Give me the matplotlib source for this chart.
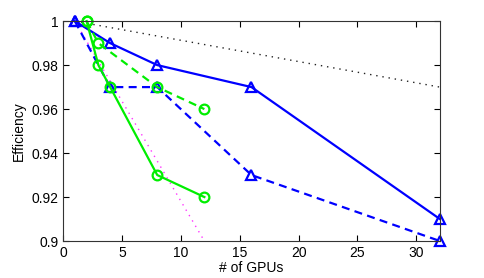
import numpy as np
from matplotlib import pyplot as plt

plt.rcParams['font.family'] = ['Liberation Sans', 'DejaVu Sans']

# measured efficiency
gpus_tri = [1, 4, 8, 16, 32]
eff_blue_solid = [1.0, 0.99, 0.98, 0.97, 0.91]
eff_blue_dash = [1.0, 0.97, 0.97, 0.93, 0.90]

gpus_circ_dash = [2, 3, 8, 12]
eff_green_dash = [1.0, 0.99, 0.97, 0.96]
gpus_circ_solid = [2, 3, 4, 8, 12]
eff_green_solid = [1.0, 0.98, 0.97, 0.93, 0.92]

# reference trend lines
ref_black_x = [1, 32]
ref_black_y = [1.0, 0.97]
ref_mag_x = [1, 12]
ref_mag_y = [1.0, 0.90]

fig = plt.figure(figsize=(4.85, 2.78), dpi=100)
ax = fig.add_axes([0.13, 0.133, 0.777, 0.791])

ax.plot(ref_black_x, ref_black_y, color='#222222', lw=1, dashes=(1, 3.5))
ax.plot(ref_mag_x, ref_mag_y, color='#ff33ff', lw=1, dashes=(1, 3.5))

dash = (3.6, 2.4)
ax.plot(gpus_tri, eff_blue_solid, '-^', color='#0000ff', lw=1.6, ms=7.5,
        mfc='none', mew=1.6, clip_on=False)
ax.plot(gpus_tri, eff_blue_dash, '^', ls='--', dashes=dash, color='#0000ff',
        lw=1.6, ms=7.5, mfc='none', mew=1.6, clip_on=False)
ax.plot(gpus_circ_dash, eff_green_dash, 'o', ls='--', dashes=dash,
        color='#00ee00', lw=1.6, ms=7, mfc='none', mew=1.6, clip_on=False)
ax.plot(gpus_circ_solid, eff_green_solid, '-o', color='#00ee00', lw=1.6, ms=7,
        mfc='none', mew=1.6, clip_on=False)

ax.set_xlim(0, 32)
ax.set_ylim(0.9, 1.0)
ax.set_xticks([0, 5, 10, 15, 20, 25, 30])
ax.set_yticks([0.9, 0.92, 0.94, 0.96, 0.98, 1.0])
ax.set_yticklabels(['0.9', '0.92', '0.94', '0.96', '0.98', '1'])
ax.tick_params(direction='in', top=True, right=True, labelsize=10, length=4)
for s in ax.spines.values():
    s.set_linewidth(0.8)
    s.set_color('#333333')

ax.set_xlabel('# of GPUs', fontsize=10, labelpad=1)
ax.set_ylabel('Efficiency', fontsize=10, labelpad=4)

plt.savefig('out.png')
